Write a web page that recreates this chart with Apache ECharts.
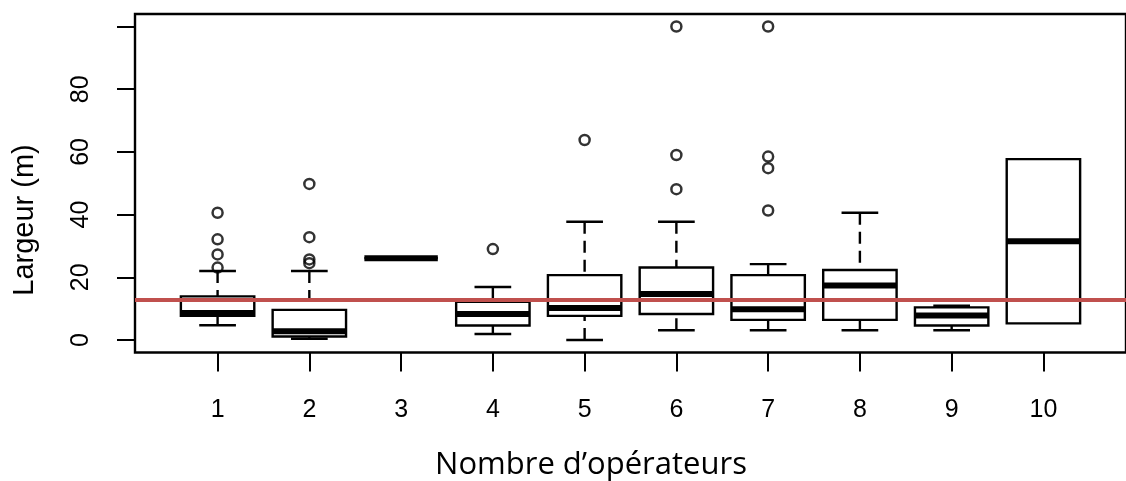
<!DOCTYPE html>
<html>
<head>
<meta charset="utf-8">
<script src="https://cdn.jsdelivr.net/npm/echarts@6/dist/echarts.min.js"></script>
<style>
html,body{margin:0;padding:0;background:#fff;}
#chart{width:1126px;height:481px;}
</style>
</head>
<body>
<div id="chart"></div>
<script>
// ---- data ----
const categories = [1, 2, 3, 4, 5, 6, 7, 8, 9, 10];
const lowerWhisker = [4.7, 0.4, 26.1, 1.9, 0.0, 3.1, 3.1, 3.1, 3.1, 5.3];
const q1           = [7.7, 1.1, 26.1, 4.6, 7.7, 8.3, 6.4, 6.4, 4.6, 5.3];
const medians      = [8.6, 2.8, 26.1, 8.3, 10.2, 14.7, 9.8, 17.4, 7.8, 31.5];
const q3           = [13.9, 9.6, 26.1, 12.2, 20.7, 23.1, 20.7, 22.3, 10.4, 57.7];
const upperWhisker = [22.0, 22.0, 26.1, 16.9, 37.7, 37.7, 24.2, 40.6, 10.9, 57.7];
const outliers1 = [23.1, 27.3, 32.1, 40.6];
const outliers2 = [24.5, 25.7, 32.8, 49.8];
const outliers4 = [29.0];
const outliers5 = [63.8];
const outliers6 = [48.1, 59.0, 100];
const outliers7 = [41.3, 54.8, 58.5, 100];
const referenceValue = 12.9;
const yTicks = [0, 20, 40, 60, 80, 100];
const yTickLabels = [0, 20, 40, 60, 80];
const xLabel = 'Nombre d’opérateurs';
const yLabel = 'Largeur (m)';

// ---- build series data ----
const boxData = categories.map((c, i) => [c, lowerWhisker[i], q1[i], medians[i], q3[i], upperWhisker[i]]);
const outlierGroups = {1: outliers1, 2: outliers2, 4: outliers4, 5: outliers5, 6: outliers6, 7: outliers7};
const outlierData = [];
Object.keys(outlierGroups).forEach(k => outlierGroups[k].forEach(v => outlierData.push([Number(k), v])));

const BOX_W = 0.8, STAPLE_W = 0.4;

function renderBox(params, api) {
  const x = api.value(0);
  const lo = api.value(1), a = api.value(2), m = api.value(3), b = api.value(4), hi = api.value(5);
  const pLo = api.coord([x, lo]), pA = api.coord([x, a]), pM = api.coord([x, m]), pB = api.coord([x, b]), pHi = api.coord([x, hi]);
  const bw = api.size([BOX_W, 0])[0];
  const sw = api.size([STAPLE_W, 0])[0];
  const cx = pM[0];
  const black = {stroke: '#000', lineWidth: 2.4, fill: null};
  const dashed = {stroke: '#000', lineWidth: 2.4, lineDash: [12, 7], fill: null};
  const children = [];
  if (Math.abs(pHi[1] - pB[1]) > 0.5) {
    children.push({type: 'line', shape: {x1: cx, y1: pHi[1], x2: cx, y2: pB[1]}, style: dashed});
    children.push({type: 'line', shape: {x1: cx - sw / 2, y1: pHi[1], x2: cx + sw / 2, y2: pHi[1]}, style: black});
  }
  if (Math.abs(pLo[1] - pA[1]) > 0.5) {
    children.push({type: 'line', shape: {x1: cx, y1: pLo[1], x2: cx, y2: pA[1]}, style: dashed});
    children.push({type: 'line', shape: {x1: cx - sw / 2, y1: pLo[1], x2: cx + sw / 2, y2: pLo[1]}, style: black});
  }
  children.push({type: 'rect', shape: {x: cx - bw / 2, y: pB[1], width: bw, height: pA[1] - pB[1]}, style: black});
  children.push({type: 'line', shape: {x1: cx - bw / 2, y1: pM[1], x2: cx + bw / 2, y2: pM[1]}, style: {stroke: '#000', lineWidth: 6, lineCap: 'butt'}});
  return {type: 'group', children: children};
}

const chart = echarts.init(document.getElementById('chart'), null, {renderer: 'canvas'});
chart.setOption({
  animation: false,
  backgroundColor: '#fff',
  grid: {left: 135, top: 14, width: 996, height: 338.5, show: true, borderColor: '#000', borderWidth: 2.4, backgroundColor: 'transparent'},
  xAxis: {
    type: 'value', min: 0.1, max: 10.9,
    axisLine: {show: false, onZero: false},
    splitLine: {show: false},
    axisTick: {show: true, inside: false, length: 19, lineStyle: {color: '#000', width: 2}, customValues: categories},
    axisLabel: {show: true, margin: 45, fontSize: 25, color: '#000', fontFamily: 'Liberation Sans, Arial, sans-serif', customValues: categories}
  },
  yAxis: {
    type: 'value', min: -4, max: 104,
    axisLine: {show: false, onZero: false},
    splitLine: {show: false},
    axisTick: {show: true, inside: false, length: 18, lineStyle: {color: '#000', width: 2}, customValues: yTicks},
    axisLabel: {show: true, rotate: 90, margin: 41, fontSize: 25, color: '#000', fontFamily: 'Liberation Sans, Arial, sans-serif', customValues: yTickLabels}
  },
  graphic: [
    {type: 'text', x: 25, y: 220, rotation: Math.PI / 2, style: {text: yLabel, fontSize: 29, fontFamily: 'Liberation Sans, Arial, sans-serif', fill: '#000', align: 'center', verticalAlign: 'middle'}},
    {type: 'text', x: 591, y: 465, style: {text: xLabel, fontSize: 31, fontFamily: 'Open Sans, Noto Sans, sans-serif', fill: '#000', align: 'center', verticalAlign: 'middle'}}
  ],
  series: [
    {type: 'custom', renderItem: renderBox, data: boxData, clip: false, z: 2, silent: true,
     encode: {x: 0, y: [1, 2, 3, 4, 5]}},
    {type: 'scatter', data: outlierData, symbol: 'circle', symbolSize: 10,
     itemStyle: {color: 'rgba(0,0,0,0)', borderColor: '#000', borderWidth: 2.5}, z: 3, silent: true, clip: false},
    {type: 'line', data: [], z: 5, silent: true,
     markLine: {silent: true, symbol: ['none', 'none'], label: {show: false},
       lineStyle: {color: '#C0504D', width: 4, type: 'solid'},
       data: [{yAxis: referenceValue}]}}
  ]
});
</script>
</body>
</html>
